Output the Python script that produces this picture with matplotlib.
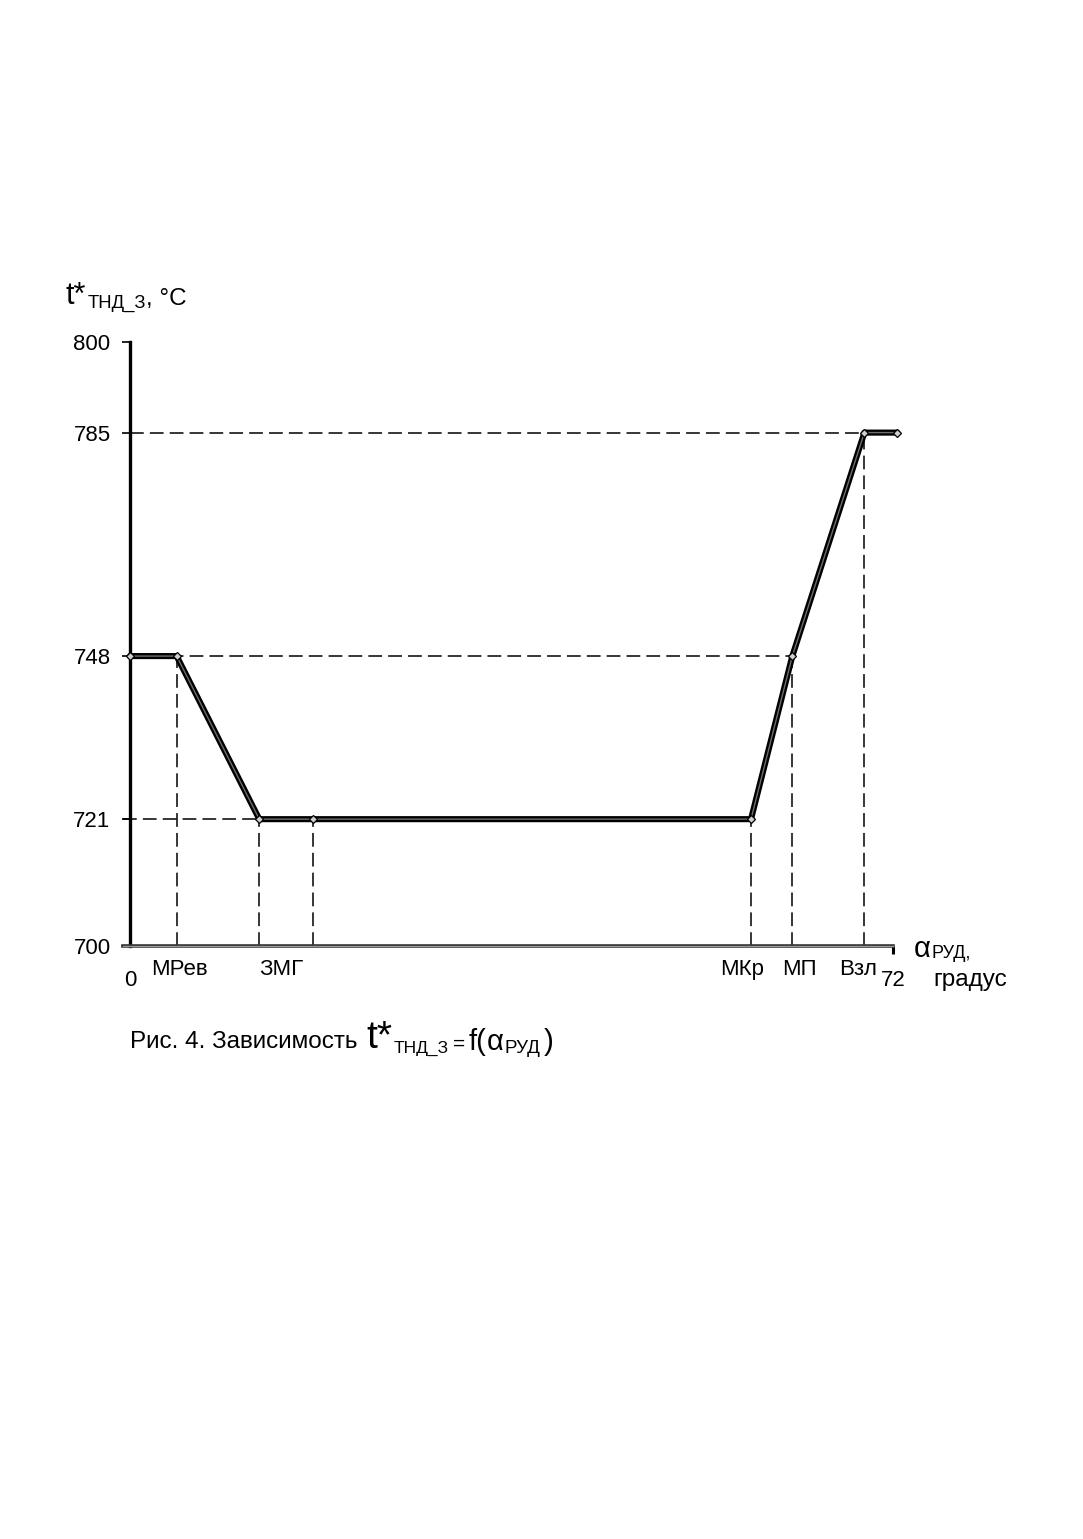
import numpy as np
import matplotlib.pyplot as plt

plt.rcParams['font.family'] = ['Liberation Sans', 'DejaVu Sans']

# точки режимов: угол РУД, градус -> t*ТНД_З, °С
alpha = [0, 4.4, 12.2, 17.3, 58.6, 62.5, 69.3, 72.4]
t_tnd = [748, 748, 721, 721, 721, 748, 785, 785]
mode_names = ['МРев', 'ЗМГ', 'МКр', 'МП', 'Взл']
mode_label_x = [4.7, 14.3, 57.8, 63.2, 68.7]
y_ticks = [700, 721, 748, 785, 800]
x_min, x_max = 0, 72
y_min, y_max = 700, 800

W, H = 1083, 1539


def px(x, y):
    return x / W, 1 - y / H


fig = plt.figure(figsize=(W / 100, H / 100), dpi=100)
renderer = fig.canvas.get_renderer()


def chain(x, pieces):
    # pieces: (text, fontsize, baseline_y_px, gap_px)
    for s, fs, y, gap in pieces:
        x += gap
        t = fig.text(*px(x, y), s, fontsize=fs, ha='left', va='baseline')
        x = t.get_window_extent(renderer).x1
    return x


ax = fig.add_axes([130 / W, 593 / H, 763 / W, 604 / H])
ax.set_xlim(x_min, x_max)
ax.set_ylim(y_min, y_max)

for s in ['top', 'right', 'bottom']:
    ax.spines[s].set_visible(False)
ax.spines['left'].set_linewidth(2.4)
ax.spines['left'].set_color('black')

ax.set_yticks(y_ticks)
ax.set_yticklabels([str(v) for v in y_ticks], fontsize=16)
ax.tick_params(axis='y', direction='out', length=6, width=1.2, pad=8)
ax.set_xticks([x_max])
ax.set_xticklabels([''])
ax.tick_params(axis='x', direction='out', length=6, width=2.2)

dash = dict(color='black', lw=1.1, linestyle=(0, (9, 4)), zorder=2)
# горизонтальные пунктиры
ax.plot([x_min, alpha[5]], [t_tnd[5], t_tnd[5]], **dash)
ax.plot([-0.7, alpha[2]], [t_tnd[2], t_tnd[2]], clip_on=False, **dash)
ax.plot([x_min, alpha[6]], [t_tnd[6], t_tnd[6]], **dash)
# вертикальные пунктиры
for a, t in zip(alpha[1:7], t_tnd[1:7]):
    ax.plot([a, a], [y_min, t], **dash)

# ось абсцисс
ax.plot([-0.7, x_max], [y_min, y_min], color='#333333', lw=2.6, clip_on=False, zorder=3)
ax.plot([-0.7, x_max], [y_min, y_min], color='#9a9a9a', lw=0.9, clip_on=False, zorder=3)

# основная кривая
ax.plot(alpha, t_tnd, color='black', lw=4.4, clip_on=False, zorder=4,
        solid_joinstyle='round', solid_capstyle='round')
ax.plot(alpha, t_tnd, color='#6e6e6e', lw=1.0, clip_on=False, zorder=5)
ax.plot(alpha, t_tnd, linestyle='none', marker='D', markersize=4.5,
        markerfacecolor='#d0d0d0', markeredgecolor='black', markeredgewidth=0.9,
        clip_on=False, zorder=6)

# подписи режимов
for name, xl in zip(mode_names, mode_label_x):
    ax.annotate(name, xy=(xl, y_min), xytext=(0, -17), textcoords='offset points',
                ha='center', va='center', fontsize=16)
ax.annotate('0', xy=(x_min, y_min), xytext=(0, -25), textcoords='offset points',
            ha='center', va='center', fontsize=16)
ax.annotate('72', xy=(x_max, y_min), xytext=(0, -25), textcoords='offset points',
            ha='center', va='center', fontsize=16)

# подпись оси X
chain(914, [('α', 21, 957, 0), ('РУД,', 13, 958, 1)])
fig.text(*px(933, 986), 'градус', fontsize=17.5, ha='left', va='baseline')

# подпись оси Y
chain(66, [('t*', 22, 304, 0), ('ТНД_З', 13.3, 308, 1), (', °С', 17.5, 305, 0)])

# подпись рисунка
chain(130, [('Рис. 4. Зависимость', 17.5, 1048, 0),
            ('t*', 28, 1048, 9),
            ('ТНД_З', 12.5, 1053, 1),
            ('=', 15, 1050, 4),
            ('f(', 21, 1050, 4),
            ('α', 21, 1050, 0),
            ('РУД', 13.5, 1053, 1),
            (')', 21, 1050, 3)])

fig.savefig('out.png', dpi=100)
